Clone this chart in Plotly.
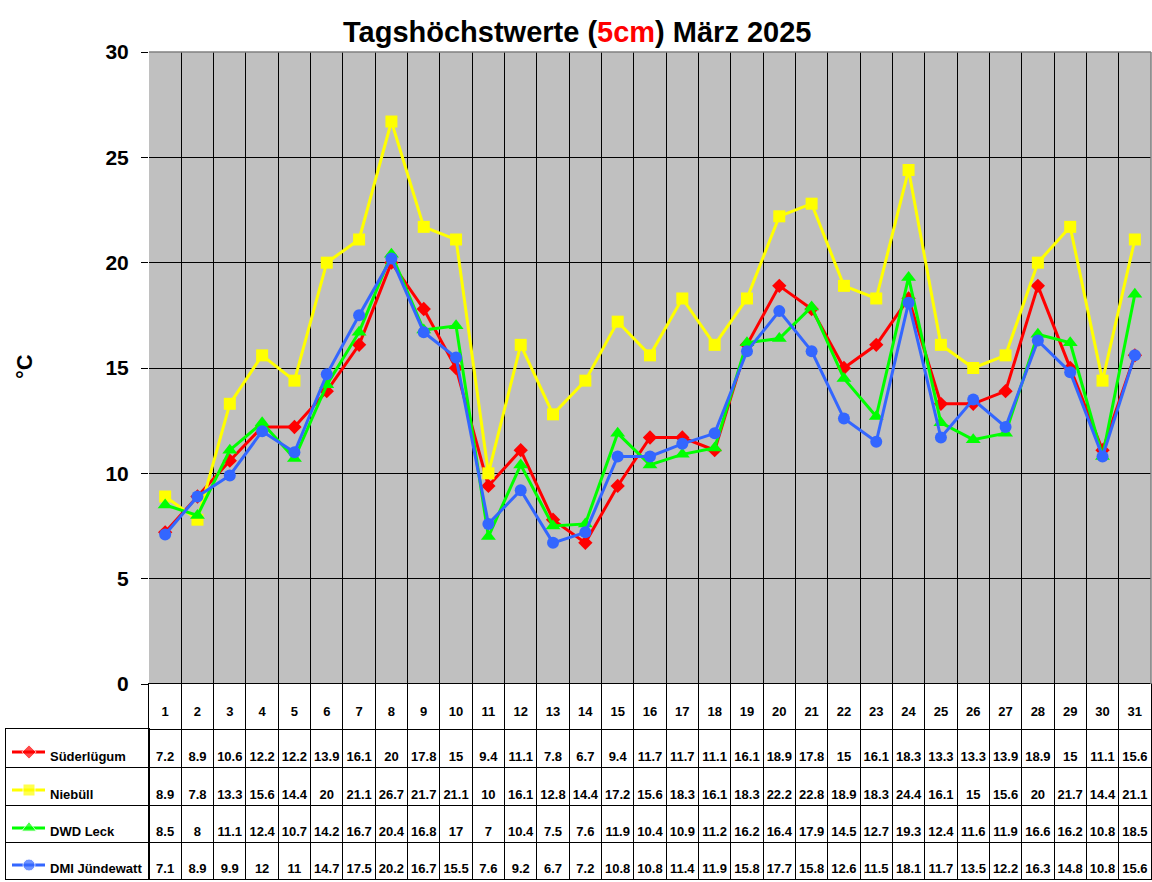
import plotly.graph_objects as go

W, H = 1152, 882

days = list(range(1, 32))

series_names = ['Süderlügum', 'Niebüll', 'DWD Leck', 'DMI Jündewatt']

suederluegum = [7.2, 8.9, 10.6, 12.2, 12.2, 13.9, 16.1, 20, 17.8, 15, 9.4, 11.1, 7.8, 6.7, 9.4, 11.7,
                11.7, 11.1, 16.1, 18.9, 17.8, 15, 16.1, 18.3, 13.3, 13.3, 13.9, 18.9, 15, 11.1, 15.6]
niebuell = [8.9, 7.8, 13.3, 15.6, 14.4, 20, 21.1, 26.7, 21.7, 21.1, 10, 16.1, 12.8, 14.4, 17.2, 15.6,
            18.3, 16.1, 18.3, 22.2, 22.8, 18.9, 18.3, 24.4, 16.1, 15, 15.6, 20, 21.7, 14.4, 21.1]
dwd_leck = [8.5, 8, 11.1, 12.4, 10.7, 14.2, 16.7, 20.4, 16.8, 17, 7, 10.4, 7.5, 7.6, 11.9, 10.4,
            10.9, 11.2, 16.2, 16.4, 17.9, 14.5, 12.7, 19.3, 12.4, 11.6, 11.9, 16.6, 16.2, 10.8, 18.5]
dmi_juendewatt = [7.1, 8.9, 9.9, 12, 11, 14.7, 17.5, 20.2, 16.7, 15.5, 7.6, 9.2, 6.7, 7.2, 10.8, 10.8,
                  11.4, 11.9, 15.8, 17.7, 15.8, 12.6, 11.5, 18.1, 11.7, 13.5, 12.2, 16.3, 14.8, 10.8, 15.6]

y_ticks = [0, 5, 10, 15, 20, 25, 30]

all_series = [suederluegum, niebuell, dwd_leck, dmi_juendewatt]
colors = ['#FF0000', '#FFFF00', '#00FF00', '#3366FF']
symbols = ['diamond', 'square', 'triangle-up', 'circle']
sizes = [11, 12, 13, 12]

FONT = 'Arial, Liberation Sans, sans-serif'


def px_x(p):
    return p / W


def px_y(p):
    return 1 - p / H


# pixel offsets (from plot bottom) of table rows
row_lines = [45, 83, 121, 158]
row_text = [74, 112, 149, 186]
header_text = 29

fig = go.Figure()

# main chart
for name, vals, col, sym, sz in zip(series_names, all_series, colors, symbols, sizes):
    fig.add_trace(go.Scatter(x=days, y=vals, mode='lines+markers', name=name,
                             line=dict(color=col, width=3),
                             marker=dict(color=col, symbol=sym, size=sz),
                             xaxis='x', yaxis='y', showlegend=False))

# table: header
fig.add_trace(go.Scatter(x=days, y=[header_text] * len(days), mode='text',
                         text=[str(d) for d in days],
                         textfont=dict(family=FONT, size=13, color='black', weight='bold'),
                         xaxis='x2', yaxis='y2', showlegend=False, hoverinfo='skip'))

# table: values
for vals, ty in zip(all_series, row_text):
    fig.add_trace(go.Scatter(x=days, y=[ty] * len(days), mode='text',
                             text=['%g' % v for v in vals],
                             textfont=dict(family=FONT, size=13, color='black', weight='bold'),
                             xaxis='x2', yaxis='y2', showlegend=False, hoverinfo='skip'))

# table: legend column
for i, (name, col, sym, sz) in enumerate(zip(series_names, colors, symbols, sizes)):
    row_top = 729 + [0, 38, 76, 113][i]
    fig.add_trace(go.Scatter(x=[12, 29, 45], y=[row_top + 23] * 3, mode='lines+markers',
                             line=dict(color=col, width=3),
                             marker=dict(color=col, symbol=sym, size=[0, sz, 0]),
                             xaxis='x3', yaxis='y3', showlegend=False, hoverinfo='skip'))
    fig.add_trace(go.Scatter(x=[50], y=[684 + row_text[i]], mode='text', text=[name],
                             textposition='middle right',
                             textfont=dict(family=FONT, size=13, color='black', weight='bold'),
                             xaxis='x3', yaxis='y3', showlegend=False, hoverinfo='skip',
                             cliponaxis=False))

grid_x = [d - 0.5 for d in days] + [31.5]

fig.update_layout(
    template='none',
    width=W, height=H,
    margin=dict(l=0, r=0, t=0, b=0, pad=0),
    showlegend=False,
    paper_bgcolor='white',
    plot_bgcolor='white',
    xaxis=dict(domain=[px_x(149), px_x(1151)], range=[0.5, 31.5], anchor='y', automargin=False,
               tickvals=grid_x, showticklabels=False, ticks='',
               showgrid=True, gridcolor='black', gridwidth=1, zeroline=False),
    yaxis=dict(domain=[px_y(684), px_y(52)], range=[0, 30], anchor='x', automargin=False,
               tickvals=y_ticks, ticks='outside', ticklen=7, tickcolor='black', tickwidth=1,
               ticklabelstandoff=8,
               tickfont=dict(family=FONT, size=21, color='black', weight='bold'),
               showgrid=True, gridcolor='black', gridwidth=1, zeroline=False),
    xaxis2=dict(domain=[px_x(149), px_x(1151)], range=[0.5, 31.5], anchor='y2', automargin=False,
                tickvals=grid_x, showticklabels=False, ticks='',
                showgrid=True, gridcolor='black', gridwidth=1, zeroline=False,
                showline=True, linecolor='black', mirror=True),
    yaxis2=dict(domain=[px_y(879), px_y(684)], range=[195, 0], anchor='x2', automargin=False,
                tickvals=row_lines, showticklabels=False, ticks='',
                showgrid=True, gridcolor='black', gridwidth=1, zeroline=False,
                showline=True, linecolor='black', mirror=True),
    xaxis3=dict(domain=[px_x(6), px_x(149)], range=[6, 149], anchor='y3', automargin=False,
                showticklabels=False, ticks='', showgrid=False, zeroline=False,
                showline=True, linecolor='black', mirror=True),
    yaxis3=dict(domain=[px_y(879), px_y(729)], range=[879, 729], anchor='x3', automargin=False,
                tickvals=[767, 805, 842], showticklabels=False, ticks='',
                showgrid=True, gridcolor='black', gridwidth=1, zeroline=False,
                showline=True, linecolor='black', mirror=True),
    shapes=[
        dict(type='rect', xref='x domain', yref='y domain', x0=0, x1=1, y0=0, y1=1,
             fillcolor='#C0C0C0', line=dict(width=0), layer='below'),
        dict(type='line', xref='x domain', yref='y domain', x0=0, x1=1, y0=1, y1=1,
             line=dict(color='#808080', width=1.5)),
        dict(type='line', xref='x domain', yref='y domain', x0=1, x1=1, y0=0, y1=1,
             line=dict(color='#808080', width=1.5)),
    ],
    annotations=[
        dict(text='Tagshöchstwerte (<span style="color:#FF0000">5cm</span>) März 2025',
             xref='paper', yref='paper', x=px_x(577), y=px_y(32),
             xanchor='center', yanchor='middle', showarrow=False,
             font=dict(family=FONT, size=29, color='black', weight='bold')),
        dict(text='°C', xref='paper', yref='paper', x=px_x(24), y=px_y(367),
             xanchor='center', yanchor='middle', showarrow=False, textangle=-90,
             font=dict(family=FONT, size=22, color='black', weight='bold')),
    ],
)

fig.write_html('out.html', post_script="document.body.style.margin='0';",
               config={'displayModeBar': False})
